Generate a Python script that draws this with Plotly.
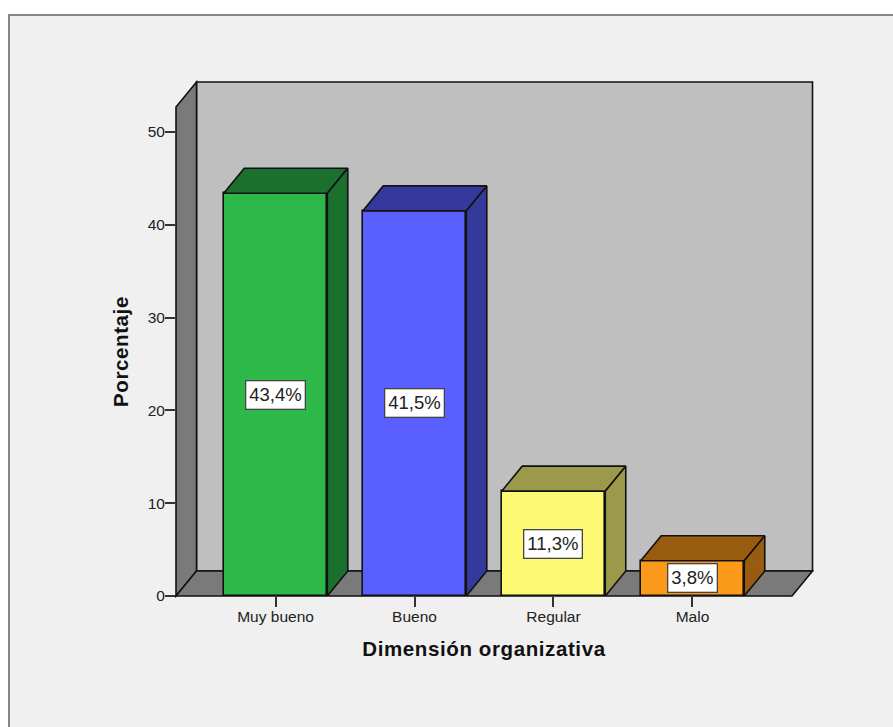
import plotly.graph_objects as go

categories = ["Muy bueno", "Bueno", "Regular", "Malo"]
values = [43.4, 41.5, 11.3, 3.8]
value_labels = ["43,4%", "41,5%", "11,3%", "3,8%"]
front_colors = ["#2eb84a", "#5a60ff", "#fdf972", "#fb9a1a"]
shade_colors = ["#1c702e", "#35399b", "#9c9a4a", "#985c10"]
y_ticks = [0, 10, 20, 30, 40, 50]

W, H = 893, 727
L, R, T, B = 176, 101, 107, 131
PW, PH = W - L - R, H - T - B
X_RANGE = [-0.716, 3.716]
Y_RANGE = [0, 52.7]
BAR_W = 0.745
DX_PX, DY_PX = 20.5, 25
DX = DX_PX / PW * (X_RANGE[1] - X_RANGE[0])
DY = DY_PX / PH * (Y_RANGE[1] - Y_RANGE[0])
dxp, dyp = DX_PX / PW, DY_PX / PH
EDGE = dict(color="#111111", width=1.6)

fig = go.Figure()


def poly(pts):
    return "M " + " L ".join(f"{x},{y}" for x, y in pts) + " Z"


# outer panel and the 3-D chart frame
px = lambda x: (x - L) / PW
py = lambda y: (H - B - y) / PH
shapes = [
    dict(type="path", xref="paper", yref="paper", layer="below",
         path=poly([(px(9), py(15)), (px(W + 5), py(15)), (px(W + 5), py(H + 5)), (px(9), py(H + 5))]),
         fillcolor="#f0f0f0", line=dict(color="#858585", width=2)),
    dict(type="path", xref="paper", yref="paper", layer="below",
         path=poly([(dxp, dyp), (1 + dxp, dyp), (1 + dxp, 1 + dyp), (dxp, 1 + dyp)]),
         fillcolor="#bfbfbf", line=EDGE),
    dict(type="path", xref="paper", yref="paper", layer="below",
         path=poly([(0, 0), (dxp, dyp), (dxp, 1 + dyp), (0, 1)]),
         fillcolor="#7a7a7a", line=EDGE),
    dict(type="path", xref="paper", yref="paper", layer="below",
         path=poly([(0, 0), (1, 0), (1 + dxp, dyp), (dxp, dyp)]),
         fillcolor="#7a7a7a", line=EDGE),
]

# front faces
fig.add_trace(go.Bar(
    x=list(range(len(categories))), y=values, width=BAR_W,
    marker=dict(color=front_colors, line=EDGE), showlegend=False,
    customdata=categories, hovertemplate="%{customdata}: %{y}%<extra></extra>",
))

# top and side faces, derived from the values
for i, (v, c) in enumerate(zip(values, shade_colors)):
    x0, x1 = i - BAR_W / 2, i + BAR_W / 2
    fig.add_trace(go.Scatter(
        x=[x0, x1, x1 + DX, x0 + DX, x0], y=[v, v, v + DY, v + DY, v],
        mode="lines", fill="toself", fillcolor=c, line=EDGE,
        showlegend=False, hoverinfo="skip", cliponaxis=False))
    fig.add_trace(go.Scatter(
        x=[x1, x1 + DX, x1 + DX, x1, x1], y=[0, DY, v + DY, v, 0],
        mode="lines", fill="toself", fillcolor=c, line=EDGE,
        showlegend=False, hoverinfo="skip", cliponaxis=False))

annotations = [
    dict(x=i, y=v / 2, text=t, showarrow=False, bgcolor="#ffffff",
         bordercolor="#444444", borderwidth=1.3, borderpad=3,
         font=dict(family="Liberation Sans", size=18.5, color="#222222"))
    for i, (v, t) in enumerate(zip(values, value_labels))
]

fig.update_layout(
    width=W, height=H, autosize=False,
    margin=dict(l=L, r=R, t=T, b=B, pad=0),
    paper_bgcolor="#ffffff", plot_bgcolor="rgba(0,0,0,0)",
    shapes=shapes, annotations=annotations, bargap=0,
    font=dict(family="Liberation Sans", color="#222222"),
    xaxis=dict(range=X_RANGE, tickmode="array", tickvals=list(range(len(categories))),
               ticktext=categories, ticks="outside", ticklen=10, tickwidth=1.5,
               tickcolor="#333333", tickfont=dict(size=15.5), ticklabelstandoff=-4,
               showgrid=False, zeroline=False, showline=False,
               title=dict(text="<b>Dimensión organizativa</b>", standoff=18,
                          font=dict(size=20.5, color="#111111"))),
    yaxis=dict(range=Y_RANGE, tickmode="array", tickvals=y_ticks, ticks="outside",
               ticklen=10, tickwidth=1.5, tickcolor="#333333", tickfont=dict(size=15.5),
               ticklabelstandoff=-3, showgrid=False, zeroline=False, showline=False,
               title=dict(text="<b>Porcentaje</b>", standoff=13,
                          font=dict(size=20.5, color="#111111"))),
)

fig.write_html("out.html", config=dict(displayModeBar=False),
               post_script=("document.body.style.margin='0';document.body.style.overflow='hidden';"
                            "document.querySelectorAll('.xtitle,.ytitle').forEach("
                            "function(e){e.style.letterSpacing='0.6px';});"))
